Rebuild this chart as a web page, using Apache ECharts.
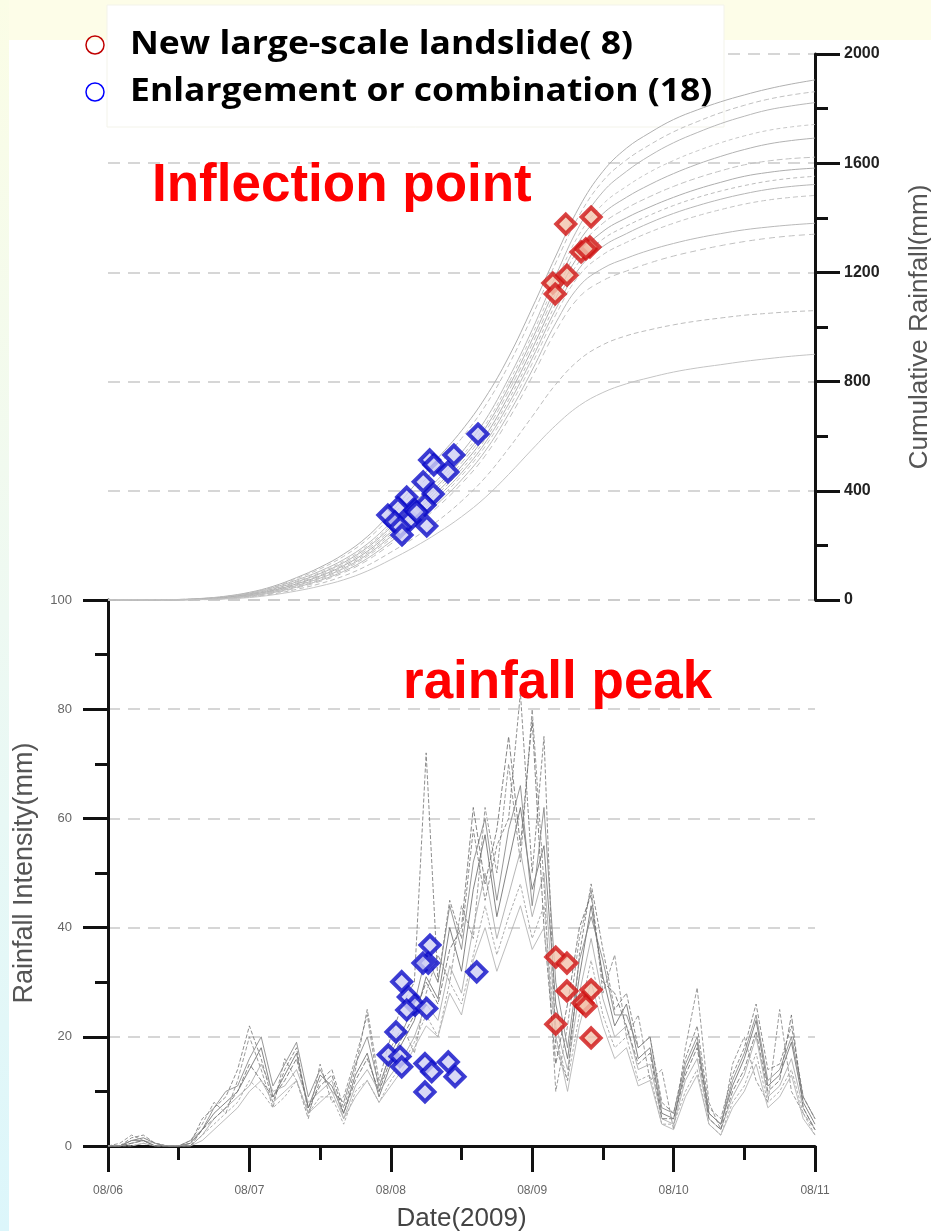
<!DOCTYPE html>
<html><head><meta charset="utf-8">
<style>html,body{margin:0;padding:0;background:#fff}#c{width:931px;height:1231px}</style>
<script src="https://cdn.jsdelivr.net/npm/echarts@6/dist/echarts.min.js"></script>
</head><body><div id="c"></div>
<script>
// ---------- DATA ----------
const dayLabels = ['08/06','08/07','08/08','08/09','08/10','08/11'];
const legendLabels = ['New large-scale landslide( 8)','Enlargement or combination (18)'];
const annotations = ['Inflection point','rainfall peak'];

// hours since 08/06 00:00
const cumHours = [0,4,8,12,16,20,24,28,32,36,40,44,48,52,56,60,64,68,72,76,80,84,88,92,96,100,104,108,112,116,120];
const intHours = [0,2,4,6,8,10,12,14,16,18,20,22,24,26,28,30,32,34,36,38,40,42,44,46,48,50,52,54,56,58,60,62,64,66,68,70,72,74,76,78,80,82,84,86,88,90,92,94,96,98,100,102,104,106,108,110,112,114,116,118,120];

// cumulative rainfall (mm) per station
const cum1  = [0,0,0,2,6,14,28,50,82,120,168,232,320,420,520,620,740,890,1070,1260,1440,1570,1655,1712,1760,1795,1825,1850,1872,1890,1905];
const cum2  = [0,0,0,2,5,13,26,47,78,114,160,222,305,398,492,592,710,860,1040,1235,1410,1535,1612,1668,1715,1752,1785,1812,1834,1850,1862];
const cum3  = [0,0,0,1,5,12,25,45,73,106,148,205,282,358,442,540,658,812,990,1188,1370,1495,1570,1628,1675,1712,1745,1772,1795,1810,1822];
const cum4  = [0,0,0,1,4,11,23,42,69,101,142,198,272,346,430,525,640,795,972,1165,1340,1450,1515,1568,1610,1645,1675,1700,1720,1733,1742];
const cum5  = [0,0,0,1,4,10,22,40,66,97,137,192,265,338,420,514,628,780,955,1145,1315,1415,1475,1522,1562,1596,1625,1650,1670,1683,1692];
const cum6  = [0,0,0,1,3,9,20,37,62,92,131,185,256,328,410,502,615,765,938,1125,1290,1380,1435,1478,1515,1546,1572,1594,1608,1617,1622];
const cum7  = [0,0,0,1,3,9,19,35,59,88,126,178,248,318,398,490,600,748,920,1105,1265,1350,1400,1440,1475,1505,1530,1552,1566,1576,1582];
const cum8  = [0,0,0,1,3,8,18,33,56,84,121,172,240,309,388,478,588,733,902,1085,1240,1322,1370,1410,1445,1474,1498,1518,1534,1545,1552];
const cum9  = [0,0,0,0,2,7,16,31,53,80,116,166,232,300,378,466,575,718,885,1065,1215,1295,1342,1382,1416,1444,1468,1488,1504,1515,1522];
const cum10 = [0,0,0,0,2,7,15,29,50,76,111,160,224,291,367,455,562,702,866,1045,1190,1265,1310,1348,1380,1407,1430,1450,1465,1475,1482];
const cum11 = [0,0,0,0,2,6,14,27,47,72,105,152,214,280,354,440,545,682,842,1015,1150,1215,1252,1282,1306,1326,1342,1356,1366,1374,1380];
const cum12 = [0,0,0,0,2,6,13,25,44,68,100,145,205,270,342,426,528,662,818,985,1110,1170,1205,1235,1260,1280,1298,1313,1325,1334,1340];
const cum13 = [0,0,0,0,1,5,11,22,39,60,88,126,175,228,290,362,448,555,672,790,880,935,968,990,1008,1022,1033,1043,1050,1056,1060];
const cum14 = [0,0,0,0,1,4,9,19,33,51,74,106,148,194,246,305,375,460,552,640,712,760,792,815,835,850,862,874,884,893,900];

// rainfall intensity (mm/h) per station, every 2 h
const int1 = [0,0,1,1.5,0.5,0,0,0.5,3,6, 8,10,14,18,9,13,17,7,13,11, 6,13,17,9,15,19,23,31,27,40, 32,47,57,42,52,62,47,55,26,16, 31,44,31,22,26,16,18,6,5,14, 19,6,4,11,16,23,11,13,19,8, 4];
const int2 = [0,0.5,2,1,0,0,0,1,4,8, 6,12,20,14,7,16,12,5,15,8, 9,16,24,10,18,22,17,28,35,30, 44,38,62,50,70,52,80,48,10,22, 38,47,28,35,20,24,12,14,3,18, 29,8,3,15,20,12,8,25,10,6, 3];
const int3 = [0,0,0.5,1,0.5,0,0,0,2,5, 7,9,11,15,10,11,14,8,10,12, 5,11,14,10,13,16,20,26,23,33, 28,40,50,38,46,54,42,50,22,14, 28,38,27,20,22,14,15,5,4,12, 16,5,3,9,13,20,9,11,16,7, 3];
const int4 = [0,0,1.5,2,0.5,0,0,0.5,5,7, 9,14,22,16,8,14,18,6,12,14, 7,14,25,12,20,26,30,72,30,45, 38,58,45,55,60,83,50,75,18,12, 35,48,36,25,28,18,20,8,6,16, 22,7,5,13,18,26,14,15,22,9, 5];
const int5 = [0,0,0,0.5,0,0,0,0,2,4, 6,8,12,10,7,9,12,6,9,9, 4,10,12,8,12,15,19,24,20,30, 26,35,44,35,42,48,38,44,20,12, 24,34,24,18,20,12,13,4,4,10, 14,4,2,8,11,17,8,10,14,6, 2];
const int6 = [0,0,1,1,0,0,0,1,3,7, 10,11,16,20,11,15,19,9,14,10, 8,15,20,11,17,21,26,35,30,44, 36,52,60,45,58,66,44,62,30,18, 34,42,34,24,24,18,20,7,6,15, 20,6,4,12,17,24,12,14,20,9, 5];
const int7 = [0,0,0.5,1,0,0,0,0,3,5, 7,10,15,12,9,12,16,7,11,13, 6,12,16,10,16,20,24,30,26,36, 40,62,48,58,75,55,78,40,15,26, 40,46,30,28,22,15,17,5,5,13, 18,5,3,10,14,21,10,12,24,7, 3];
const int8 = [0,0,0,0.5,0,0,0,0,1,3, 5,7,10,12,8,10,12,6,8,10, 5,9,12,8,11,14,18,22,20,28, 24,34,40,32,38,44,36,40,20,10, 22,30,22,16,18,11,12,4,3,9, 13,4,2,7,10,15,7,9,13,5, 2];

// landslide markers: time (h) and value
const newCumHours  = [77.7,82.0,80.3,81.8,81.1,77.9,75.5,75.9];
const newCumValues = [1377,1403,1275,1293,1286,1190,1161,1121];
const enlCumHours  = [62.8,54.6,55.3,58.7,57.7,53.5,55.2,50.7,53.8,49.2,47.5,48.7,51.3,49.6,54.1,49.9,52.1,52.4];
const enlCumValues = [608,513,495,531,469,433,388,377,348,337,311,286,293,267,271,238,330,322];
const newIntHours  = [76.0,77.9,77.9,82.0,80.6,81.1,76.0,82.0];
const newIntValues = [34.6,33.5,28.4,28.6,26.2,25.6,22.3,19.8];
const enlIntHours  = [54.65,54.36,53.46,62.58,49.85,50.97,52.1,50.7,54.09,48.88,47.57,49.56,49.85,53.8,54.94,57.76,58.9,53.8];
const enlIntValues = [36.8,33.5,33.5,31.9,30.1,27.3,25.8,24.9,25.2,20.9,16.7,16.4,14.5,15.1,13.6,15.4,12.7,9.9];

// ---------- CHART ----------
const cumSets = [cum1,cum2,cum3,cum4,cum5,cum6,cum7,cum8,cum9,cum10,cum11,cum12,cum13,cum14];
const intSets = [int1,int2,int3,int4,int5,int6,int7,int8];
const cumStyles = [
  ['#b0b0b0','solid'],['#c0c0c0',[5,3]],['#b8b8b8','solid'],['#c8c8c8',[4,3]],['#b2b2b2','solid'],
  ['#c2c2c2',[6,3]],['#adadad','solid'],['#bcbcbc',[4,3]],['#b6b6b6','solid'],['#c4c4c4',[5,3]],
  ['#b9b9b9','solid'],['#c0c0c0',[6,4]],['#bdbdbd',[5,3]],['#c4c4c4','solid']];
const intStyles = [
  ['#6e6e6e','solid'],['#8a8a8a',[4,2]],['#a8a8a8','solid'],['#7a7a7a',[4,2]],
  ['#9e9e9e',[3,2]],['#858585','solid'],['#707070',[5,2]],['#b0b0b0','solid']];

const pair = (xs, ys) => xs.map((x, i) => [x, ys[i]]);
const series = [];
cumSets.forEach((s, k) => series.push({
  type:'line', xAxisIndex:0, yAxisIndex:0, data: pair(cumHours, s), smooth:0.4,
  showSymbol:false, silent:true, z:2,
  lineStyle:{color:cumStyles[k][0], width:1, type:cumStyles[k][1]}
}));
intSets.forEach((s, k) => series.push({
  type:'line', xAxisIndex:1, yAxisIndex:1, data: pair(intHours, s),
  showSymbol:false, silent:true, z:2,
  lineStyle:{color:intStyles[k][0], width:1, type:intStyles[k][1], opacity:0.85}
}));
const blueMark = {symbol:'diamond', symbolSize:19, itemStyle:{color:'#cfd0f4', borderColor:'#0c0cc8', borderWidth:4}};
const redMark  = {symbol:'diamond', symbolSize:19, itemStyle:{color:'#f3c3ad', borderColor:'#d01414', borderWidth:4}};
series.push(Object.assign({type:'scatter', xAxisIndex:0, yAxisIndex:0, z:5, data:pair(enlCumHours, enlCumValues)}, blueMark));
series.push(Object.assign({type:'scatter', xAxisIndex:0, yAxisIndex:0, z:5, data:pair(newCumHours, newCumValues)}, redMark));
series.push(Object.assign({type:'scatter', xAxisIndex:1, yAxisIndex:1, z:5, data:pair(enlIntHours, enlIntValues)}, blueMark));
series.push(Object.assign({type:'scatter', xAxisIndex:1, yAxisIndex:1, z:5, data:pair(newIntHours, newIntValues)}, redMark));

const axisBlack = {color:'#111', width:3};
const dash = {color:'#c9c9c9', width:1.5, type:[12,8]};

const chart = echarts.init(document.getElementById('c'), null, {renderer:'canvas'});
chart.setOption({
  animation:false,
  backgroundColor:'#ffffff',
  textStyle:{fontFamily:'Liberation Sans, Arial, sans-serif'},
  grid:[
    {left:108, right:116, top:54, height:546, containLabel:false, outerBoundsMode:'none'},
    {left:108, right:116, top:600, height:546, containLabel:false, outerBoundsMode:'none'}
  ],
  xAxis:[
    {gridIndex:0, type:'value', min:0, max:120, interval:24, show:false},
    {gridIndex:1, type:'value', min:0, max:120, interval:24,
     axisLine:{show:true, onZero:false, lineStyle:axisBlack},
     axisTick:{show:true, length:26, lineStyle:axisBlack},
     minorTick:{show:true, splitNumber:2, length:14, lineStyle:axisBlack},
     axisLabel:{margin:39, fontSize:12, color:'#666', formatter:v => dayLabels[Math.round(v/24)]},
     splitLine:{show:false},
     name:'Date(2009)', nameLocation:'middle', nameGap:60,
     nameTextStyle:{fontSize:26, color:'#444'}}
  ],
  yAxis:[
    {gridIndex:0, type:'value', position:'right', min:0, max:2000, interval:400,
     axisLine:{show:true, onZero:false, lineStyle:axisBlack},
     axisTick:{show:true, length:25, lineStyle:axisBlack},
     minorTick:{show:true, splitNumber:2, length:13, lineStyle:axisBlack},
     axisLabel:{margin:29, fontSize:16, fontWeight:'bold', color:'#222', formatter:v => String(v)},
     splitLine:{show:true, lineStyle:dash},
     name:'Cumulative Rainfall(mm)', nameLocation:'middle', nameRotate:90, nameGap:92,
     nameTextStyle:{fontSize:26, color:'#555'}},
    {gridIndex:1, type:'value', position:'left', min:0, max:100, interval:20,
     axisLine:{show:true, onZero:false, lineStyle:axisBlack},
     axisTick:{show:true, length:25, lineStyle:axisBlack},
     minorTick:{show:true, splitNumber:2, length:13, lineStyle:axisBlack},
     axisLabel:{margin:36, fontSize:13, color:'#666'},
     splitLine:{show:true, lineStyle:dash},
     name:'Rainfall Intensity(mm)', nameLocation:'middle', nameRotate:90, nameGap:70,
     nameTextStyle:{fontSize:27, color:'#555'}}
  ],
  graphic:[
    {type:'rect', z:-1, shape:{x:0, y:0, width:931, height:40}, style:{fill:'#fdfde8'}},
    {type:'rect', z:-1, shape:{x:0, y:0, width:9, height:1231},
     style:{fill:new echarts.graphic.LinearGradient(0,0,0,1,[{offset:0,color:'#fbfde6'},{offset:0.5,color:'#eef9f2'},{offset:1,color:'#dcf6fb'}])}},
    {type:'rect', z:1, shape:{x:107, y:5, width:617, height:122}, style:{fill:'#ffffff', stroke:'#f3f3ea', lineWidth:1}},
    {type:'circle', z:6, shape:{cx:95, cy:45, r:9}, style:{fill:'none', stroke:'#c00000', lineWidth:1.5}},
    {type:'circle', z:6, shape:{cx:95, cy:92, r:9}, style:{fill:'none', stroke:'#0000ff', lineWidth:1.5}},
    {type:'text', z:6, x:130, y:45, scaleY:0.88,
     style:{text:legendLabels[0], x:0, y:0, textVerticalAlign:'middle', font:'bold 35.5px "Open Sans"', fill:'#000'}},
    {type:'text', z:6, x:130, y:92, scaleY:0.88,
     style:{text:legendLabels[1], x:0, y:0, textVerticalAlign:'middle', font:'bold 35.5px "Open Sans"', fill:'#000'}},
    {type:'text', z:6, style:{text:annotations[0], x:152, y:186, textVerticalAlign:'middle', font:'bold 53px "Liberation Sans"', fill:'#ff0000'}},
    {type:'text', z:6, style:{text:annotations[1], x:403, y:683, textVerticalAlign:'middle', font:'bold 53px "Liberation Sans"', fill:'#ff0000'}}
  ],
  series: series
});
</script></body></html>
